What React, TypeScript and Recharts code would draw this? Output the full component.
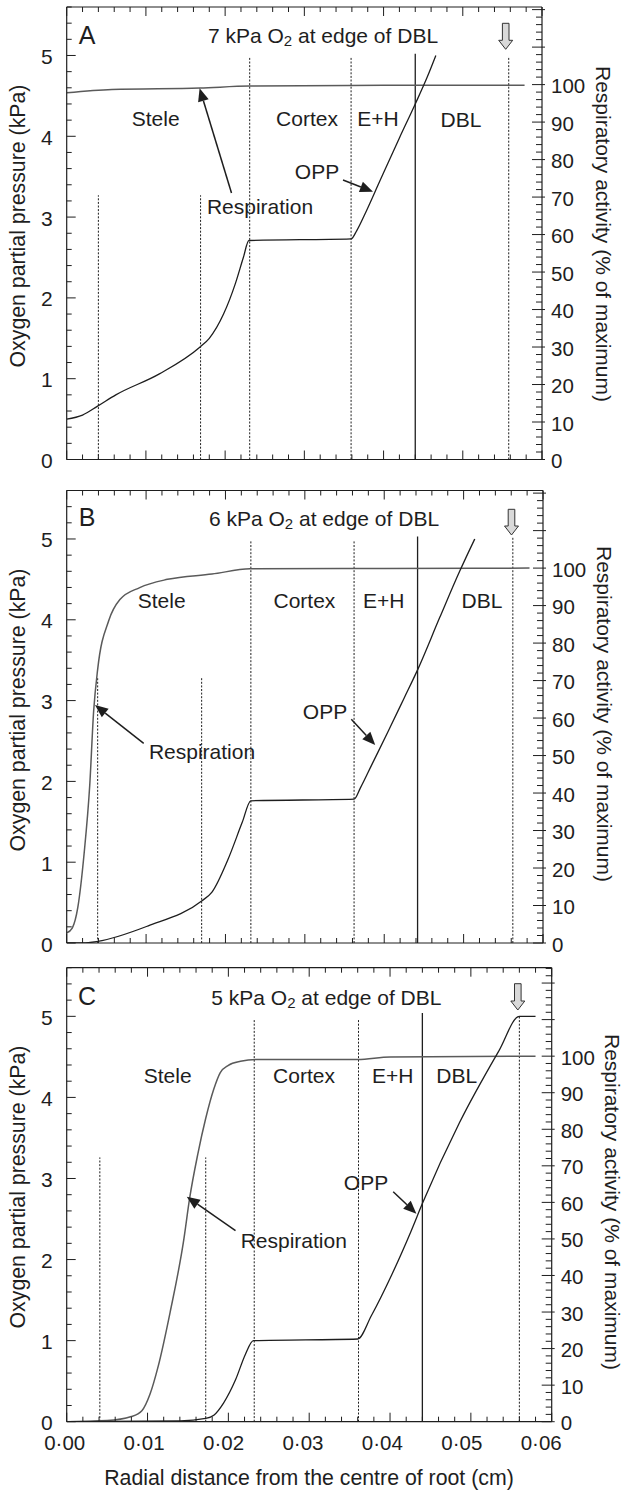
import React from 'react';
import { LineChart, Line, XAxis, YAxis, ReferenceLine } from 'recharts';

const FONT = '"Liberation Sans", Arial, Helvetica, sans-serif';
const INK = '#1e1e1e';

// ---------- Panel A : 7 kPa O2 at edge of DBL ----------
const oppAx = [0, 0.002, 0.0039, 0.0062, 0.0117, 0.0168, 0.018, 0.0198, 0.0213, 0.0223, 0.023, 0.0359, 0.0366, 0.0378, 0.0395, 0.042, 0.044, 0.0455, 0.0466];
const oppAy = [0.5, 0.55, 0.66, 0.8, 1.06, 1.39, 1.5, 1.8, 2.18, 2.5, 2.71, 2.73, 2.83, 3.07, 3.44, 3.98, 4.4, 4.73, 5.0];
const respAx = [0, 0.0057, 0.0168, 0.0231, 0.04, 0.0578];
const respAy = [97.8, 98.7, 99.1, 99.6, 99.8, 99.8];
const linesA_short = [0.004, 0.0169];
const linesA_tall = [0.0231, 0.0359];
const solidA = 0.044;
const edgeA = 0.0558;

// ---------- Panel B : 6 kPa O2 at edge of DBL ----------
const oppBx = [0, 0.002, 0.0039, 0.0102, 0.017, 0.0183, 0.0203, 0.0221, 0.0232, 0.0362, 0.037, 0.0385, 0.0405, 0.0425, 0.0442, 0.047, 0.0495, 0.0514];
const oppBy = [0, 0, 0.02, 0.21, 0.52, 0.63, 1.03, 1.49, 1.76, 1.78, 1.92, 2.22, 2.62, 3.03, 3.38, 4.03, 4.6, 5.0];
const respBx = [0, 0.0007, 0.0014, 0.0022, 0.0029, 0.0034, 0.0039, 0.0053, 0.0067, 0.0092, 0.0127, 0.0183, 0.0231, 0.04, 0.0583];
const respBy = [2.7, 4.0, 9.5, 24, 42, 62, 73, 86, 91.6, 94.8, 97, 98.4, 99.8, 99.9, 100];
const linesB_short = [0.0039, 0.017];
const linesB_tall = [0.0232, 0.0362];
const solidB = 0.0442;
const edgeB = 0.0562;

// ---------- Panel C : 5 kPa O2 at edge of DBL ----------
const oppCx = [0, 0.014, 0.0172, 0.0182, 0.0194, 0.0209, 0.0221, 0.0231, 0.036, 0.0377, 0.0402, 0.0426, 0.044, 0.0486, 0.0535, 0.056, 0.058];
const oppCy = [0, 0.01, 0.04, 0.08, 0.23, 0.52, 0.83, 1.0, 1.02, 1.31, 1.81, 2.35, 2.69, 3.69, 4.58, 5.0, 5.0];
const respCx = [0, 0.005, 0.008, 0.0093, 0.0103, 0.0113, 0.0128, 0.0145, 0.0152, 0.0162, 0.0172, 0.0182, 0.019, 0.02, 0.0215, 0.0235, 0.036, 0.04, 0.058];
const respCy = [0, 0.3, 1.4, 3.0, 7.5, 15, 30, 50, 61, 73, 83, 91, 95.5, 97.5, 98.6, 99.1, 99.1, 99.8, 100];
const linesC_short = [0.0041, 0.0172];
const linesC_tall = [0.0232, 0.0361];
const solidC = 0.044;
const edgeC = 0.056;

// ---------- Axes ----------
const xTicks = Array.from({ length: 31 }, (_, i) => +(i * 0.002).toFixed(3));
const yTicks = Array.from({ length: 29 }, (_, i) => +(i * 0.2).toFixed(1));
const rightLabels = [0, 10, 20, 30, 40, 50, 60, 70, 80, 90, 100];
const xLabel = 'Radial distance from the centre of root (cm)';
const yLabel = 'Oxygen partial pressure (kPa)';
const y2Label = 'Respiratory activity (% of maximum)';

const isInt = (v: number, m: number) => Math.abs(v * m - Math.round(v * m)) < 1e-6;

function BottomTick(props: any) {
  const { x, y, payload, showLabel } = props;
  const v = payload.value;
  const major = isInt(v, 100);
  const drift = -2 - (v / 0.06) * 8.5;
  return (
    <g>
      <line x1={x} x2={x} y1={y} y2={y - (major ? 9 : 5)} stroke={INK} strokeWidth={1} />
      {showLabel && major ? (
        <text x={x + drift} y={y + 21} textAnchor="middle" dominantBaseline="central" fontFamily={FONT} fontSize={20.5} fill={INK}>
          {v.toFixed(2).replace('.', '\u00B7')}
        </text>
      ) : null}
    </g>
  );
}

function TopTick(props: any) {
  const { x, y, payload } = props;
  const major = isInt(payload.value, 100);
  return <line x1={x} x2={x} y1={y} y2={y + (major ? 9 : 5)} stroke={INK} strokeWidth={1} />;
}

function LeftTick(props: any) {
  const { x, y, payload } = props;
  const v = payload.value;
  const major = isInt(v, 1);
  return (
    <g>
      <line x1={x} x2={x + (major ? 9 : 5)} y1={y} y2={y} stroke={INK} strokeWidth={1} />
      {major ? (
        <text x={x - 14} y={y + 1} textAnchor="end" dominantBaseline="central" fontFamily={FONT} fontSize={21} fill={INK}>
          {v}
        </text>
      ) : null}
    </g>
  );
}

function RightTick(props: any) {
  const { x, y, payload } = props;
  const v = payload.value;
  const major = isInt(v, 0.1);
  return (
    <g>
      <line x1={x + (major ? 3 : 0)} x2={x - (major ? 10 : 6)} y1={y} y2={y} stroke={INK} strokeWidth={1} />
      {rightLabels.includes(v) ? (
        <text x={x + 9} y={y + 1} textAnchor="start" dominantBaseline="central" fontFamily={FONT} fontSize={20.5} fill={INK}>
          {v}
        </text>
      ) : null}
    </g>
  );
}

type Cfg = {
  top: number; height: number; plotTop: number; plotBottom: number; plotLeft: number; plotRight: number;
  rightMax: number; showX: boolean;
  oppX: number[]; oppY: number[]; respX: number[]; respY: number[];
  shortLines: number[]; tallLines: number[]; solid: number; edge: number;
  shortTop: number; tallTop: number; solidTop: number; edgeTop: number;
};

const AX = 2; // axis band size

function Panel({ c }: { c: Cfg }) {
  const oppData = c.oppX.map((x, i) => ({ x, y: c.oppY[i] }));
  const respData = c.respX.map((x, i) => ({ x, y: c.respY[i] }));
  const rTicks: number[] = [];
  for (let v = 0; v <= c.rightMax; v += 2) rTicks.push(v);
  const dash = '2 1.6';
  const axisLine = { stroke: INK, strokeWidth: 1.2 };
  return (
    <div style={{ position: 'absolute', left: 0, top: c.top, width: 626, height: c.height }}>
      <LineChart
        width={626}
        height={c.height}
        margin={{
          top: c.plotTop - c.top - AX,
          bottom: c.top + c.height - c.plotBottom - AX,
          left: c.plotLeft - AX,
          right: 626 - c.plotRight - AX,
        }}
      >
        <XAxis xAxisId="b" type="number" dataKey="x" domain={[0, 0.06]} ticks={xTicks} interval={0} height={AX}
          tickSize={0} tickMargin={0} tickLine={false} axisLine={axisLine}
          tick={(p: any) => <BottomTick {...p} showLabel={c.showX} />} allowDataOverflow />
        <XAxis xAxisId="t" orientation="top" type="number" dataKey="x" domain={[0, 0.06]} ticks={xTicks} interval={0} height={AX}
          tickSize={0} tickMargin={0} tickLine={false} axisLine={axisLine}
          tick={(p: any) => <TopTick {...p} />} allowDataOverflow />
        <YAxis yAxisId="l" type="number" domain={[0, 5.6]} ticks={yTicks} interval={0} width={AX}
          tickSize={0} tickMargin={0} tickLine={false} axisLine={axisLine}
          tick={(p: any) => <LeftTick {...p} />} allowDataOverflow />
        <YAxis yAxisId="r" orientation="right" type="number" domain={[0, c.rightMax]} ticks={rTicks} interval={0} width={AX}
          tickSize={0} tickMargin={0} tickLine={false} axisLine={axisLine}
          tick={(p: any) => <RightTick {...p} />} allowDataOverflow />
        {c.shortLines.map((x) => (
          <ReferenceLine key={'s' + x} xAxisId="b" yAxisId="l" segment={[{ x, y: 0 }, { x, y: c.shortTop }]}
            stroke={INK} strokeWidth={1} strokeDasharray={dash} />
        ))}
        {c.tallLines.map((x) => (
          <ReferenceLine key={'t' + x} xAxisId="b" yAxisId="l" segment={[{ x, y: 0 }, { x, y: c.tallTop }]}
            stroke={INK} strokeWidth={1} strokeDasharray={dash} />
        ))}
        <ReferenceLine xAxisId="b" yAxisId="l" segment={[{ x: c.solid, y: 0 }, { x: c.solid, y: c.solidTop }]}
          stroke={INK} strokeWidth={1.3} />
        <ReferenceLine xAxisId="b" yAxisId="l" segment={[{ x: c.edge, y: 0 }, { x: c.edge, y: c.edgeTop }]}
          stroke={INK} strokeWidth={1} strokeDasharray={dash} />
        <Line xAxisId="b" yAxisId="r" data={respData} dataKey="y" type="monotone" stroke="#5a5a5a" strokeWidth={1.5}
          dot={false} isAnimationActive={false} />
        <Line xAxisId="b" yAxisId="l" data={oppData} dataKey="y" type="monotone" stroke={INK} strokeWidth={1.3}
          dot={false} isAnimationActive={false} />
      </LineChart>
    </div>
  );
}

const panels: Cfg[] = [
  {
    top: 0, height: 483, plotTop: 7, plotBottom: 459.5, plotLeft: 66.7, plotRight: 542, rightMax: 120.7, showX: false,
    oppX: oppAx, oppY: oppAy, respX: respAx, respY: respAy,
    shortLines: linesA_short, tallLines: linesA_tall, solid: solidA, edge: edgeA,
    shortTop: 3.27, tallTop: 4.97, solidTop: 5.02, edgeTop: 4.99,
  },
  {
    top: 483, height: 483, plotTop: 490.5, plotBottom: 943, plotLeft: 66.7, plotRight: 543, rightMax: 120.7, showX: false,
    oppX: oppBx, oppY: oppBy, respX: respBx, respY: respBy,
    shortLines: linesB_short, tallLines: linesB_tall, solid: solidB, edge: edgeB,
    shortTop: 3.28, tallTop: 4.98, solidTop: 5.03, edgeTop: 5.02,
  },
  {
    top: 966, height: 524, plotTop: 966.7 + 1, plotBottom: 1421.7, plotLeft: 66.7, plotRight: 551.7, rightMax: 124.2, showX: true,
    oppX: oppCx, oppY: oppCy, respX: respCx, respY: respCy,
    shortLines: linesC_short, tallLines: linesC_tall, solid: solidC, edge: edgeC,
    shortTop: 3.26, tallTop: 4.97, solidTop: 5.04, edgeTop: 5.0,
  },
];

function Arrow({ x1, y1, x2, y2 }: { x1: number; y1: number; x2: number; y2: number }) {
  const dx = x2 - x1, dy = y2 - y1;
  const L = Math.hypot(dx, dy);
  const ux = dx / L, uy = dy / L;
  const hl = 13, hw = 5.5;
  const bx = x2 - ux * hl, by = y2 - uy * hl;
  const pts = `${x2},${y2} ${bx - uy * hw},${by + ux * hw} ${bx + uy * hw},${by - ux * hw}`;
  return (
    <g>
      <line x1={x1} y1={y1} x2={bx} y2={by} stroke={INK} strokeWidth={1.5} />
      <polygon points={pts} fill={INK} />
    </g>
  );
}

function GrayArrow({ cx, ty, by }: { cx: number; ty: number; by: number }) {
  const sw = 3.3, hw = 7, hy = by - 9;
  const pts = `${cx - sw},${ty} ${cx + sw},${ty} ${cx + sw},${hy} ${cx + hw},${hy} ${cx},${by} ${cx - hw},${hy} ${cx - sw},${hy}`;
  return <polygon points={pts} fill="#d9d9d9" stroke="#333" strokeWidth={1} />;
}

function T({ x, y, s = 21, children, anchor = 'middle' }: any) {
  return (
    <text x={x} y={y} textAnchor={anchor} dominantBaseline="central" fontFamily={FONT} fontSize={s} fill={INK}>
      {children}
    </text>
  );
}

function Title({ x, y, n }: { x: number; y: number; n: number }) {
  return (
    <text x={x} y={y} textAnchor="middle" dominantBaseline="central" fontFamily={FONT} fontSize={21} fill={INK}>
      {`${n} kPa O`}
      <tspan fontSize={15} dy={5}>2</tspan>
      <tspan dy={-5}>{' at edge of DBL'}</tspan>
    </text>
  );
}

const ann = [
  { letter: 'A', lx: 87, ly: 35, tx: 323, ty: 35, n: 7,
    regions: [[155.7, 118, 'Stele'], [307, 118, 'Cortex'], [378, 118, 'E+H'], [461, 119, 'DBL']],
    opp: [317, 171.7], respL: [260, 206.7],
    oppArrow: [343, 180, 373, 191.7], respArrow: [231.5, 193, 199.6, 88.3],
    gray: [505.7, 23.3, 49.3], yc: 226, y2c: 234, y2x: 603 },
  { letter: 'B', lx: 87, ly: 517.3, tx: 324, ty: 518, n: 6,
    regions: [[161.7, 600.7, 'Stele'], [304.4, 600.7, 'Cortex'], [383.7, 600.7, 'E+H'], [482, 600.7, 'DBL']],
    opp: [325, 711.7], respL: [202, 751.7],
    oppArrow: [351.3, 719.3, 375.2, 745], respArrow: [143.7, 743.3, 95, 705],
    gray: [511.5, 509.3, 535], yc: 710, y2c: 714, y2x: 604 },
  { letter: 'C', lx: 87, ly: 995.5, tx: 326.4, ty: 997, n: 5,
    regions: [[167.7, 1075, 'Stele'], [304, 1075, 'Cortex'], [392.6, 1075, 'E+H'], [456.7, 1075, 'DBL']],
    opp: [366, 1182.6], respL: [293.8, 1240.8],
    oppArrow: [393.2, 1191.7, 416.4, 1213.7], respArrow: [235.5, 1230.6, 186.8, 1196.8],
    gray: [517.8, 983.7, 1010], yc: 1187, y2c: 1202, y2x: 612 },
];

export default function App() {
  return (
    <div style={{ position: 'absolute', left: 0, top: 0, width: 626, height: 1490, background: '#fff', overflow: 'hidden' }}>
      {panels.map((c, i) => (
        <Panel key={i} c={c} />
      ))}
      <svg width={626} height={1490} style={{ position: 'absolute', left: 0, top: 0, pointerEvents: 'none' }}>
        {ann.map((a) => (
          <g key={a.letter}>
            <T x={a.lx} y={a.ly} s={25}>{a.letter}</T>
            <Title x={a.tx} y={a.ty} n={a.n} />
            {a.regions.map((r: any) => (
              <T key={r[2]} x={r[0]} y={r[1]}>{r[2]}</T>
            ))}
            <T x={a.opp[0]} y={a.opp[1]}>OPP</T>
            <T x={a.respL[0]} y={a.respL[1]}>Respiration</T>
            <Arrow x1={a.oppArrow[0]} y1={a.oppArrow[1]} x2={a.oppArrow[2]} y2={a.oppArrow[3]} />
            <Arrow x1={a.respArrow[0]} y1={a.respArrow[1]} x2={a.respArrow[2]} y2={a.respArrow[3]} />
            <GrayArrow cx={a.gray[0]} ty={a.gray[1]} by={a.gray[2]} />
            <text x={18} y={a.yc} transform={`rotate(-90 18 ${a.yc})`} textAnchor="middle" dominantBaseline="central"
              fontFamily={FONT} fontSize={21.3} fill={INK}>{yLabel}</text>
            <text x={a.y2x} y={a.y2c} transform={`rotate(90 ${a.y2x} ${a.y2c})`} textAnchor="middle" dominantBaseline="central"
              fontFamily={FONT} fontSize={21} fill={INK}>{y2Label}</text>
          </g>
        ))}
        <T x={309} y={1478} s={21.3}>{xLabel}</T>
      </svg>
    </div>
  );
}
